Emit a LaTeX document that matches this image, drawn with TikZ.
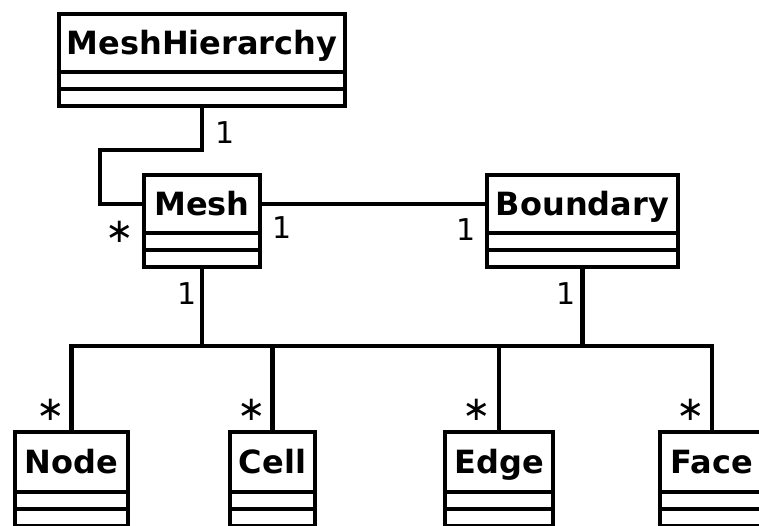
\documentclass[tikz,border=0pt]{standalone}
\usepackage{fontspec}
\setmainfont{DejaVu Sans}
\usetikzlibrary{calc}
\newcommand\umlcomps[2]{%
  \draw[ln] (#1.south west) rectangle ($(#1.south east)+(0,17)$);
  \draw[ln] ($(#1.south west)+(0,17)$) rectangle ($(#1.south east)+(0,34)$);
  \coordinate (#1-b) at ($(#1.south)+(0,34)$);
}
\begin{document}
\begin{tikzpicture}[x=1pt,y=-1pt,
  ln/.style={line width=4.2pt, line join=miter},
  cls/.style={draw, ln, inner sep=0pt, outer sep=0pt,
    font=\fontsize{32}{38}\selectfont\bfseries,
    text height=23.4pt, text depth=0pt, minimum height=58pt},
  mult/.style={font=\fontsize{30}{36}\selectfont, anchor=base, inner sep=0pt},
  star/.style={mult, font=\fontsize{34}{40}\selectfont}]
\useasboundingbox (0,0) rectangle (759,525);
% classes
\node[cls, minimum width=286pt] (mh) at (202,43) {MeshHierarchy};
\node[cls, minimum width=116pt] (mesh) at (202,204) {Mesh};
\node[cls, minimum width=191pt] (bnd) at (582.5,204) {Boundary};
\node[cls, minimum width=113pt, minimum height=60pt] (node) at (71.5,462) {Node};
\node[cls, minimum width=85pt, minimum height=60pt] (cell) at (272.5,462) {Cell};
\node[cls, minimum width=108pt, minimum height=60pt] (edge) at (499,462) {Edge};
\node[cls, minimum width=104pt, minimum height=60pt] (face) at (712,462) {Face};
\umlcomps{mh}{}
\umlcomps{mesh}{}
\umlcomps{bnd}{}
\umlcomps{node}{}
\umlcomps{cell}{}
\umlcomps{edge}{}
\umlcomps{face}{}
% connectors
\draw[ln] (mh-b) -- ++(0,44) -| ([xshift=-44pt]mesh.west) -- (mesh.west);
\draw[ln] (mesh.east) -- (bnd.west);
\coordinate (bus) at (0,346);
\draw[ln] (mesh-b) -- (mesh-b |- bus);
\draw[ln] (bnd-b) -- (bnd-b |- bus);
\draw[ln] (node.north) -- (node.north |- bus) -- (face.north |- bus) -- (face.north);
\draw[ln] (cell.north) -- (cell.north |- bus);
\draw[ln] (edge.north) -- (edge.north |- bus);
% multiplicities
\node[mult] (m1) at (225,143) {1};
\node[star] (m2) at (120,242) {∗};
\node[mult] (m3) at (282,238) {1};
\node[mult] (m4) at (466,240) {1};
\node[mult] (m5) at (187,304) {1};
\node[mult] (m6) at (566,304) {1};
\node[star] (m7) at (51,420) {∗};
\node[star] (m8) at (252,420) {∗};
\node[star] (m9) at (477,420) {∗};
\node[star] (m10) at (691,420) {∗};
\end{tikzpicture}
\end{document}
